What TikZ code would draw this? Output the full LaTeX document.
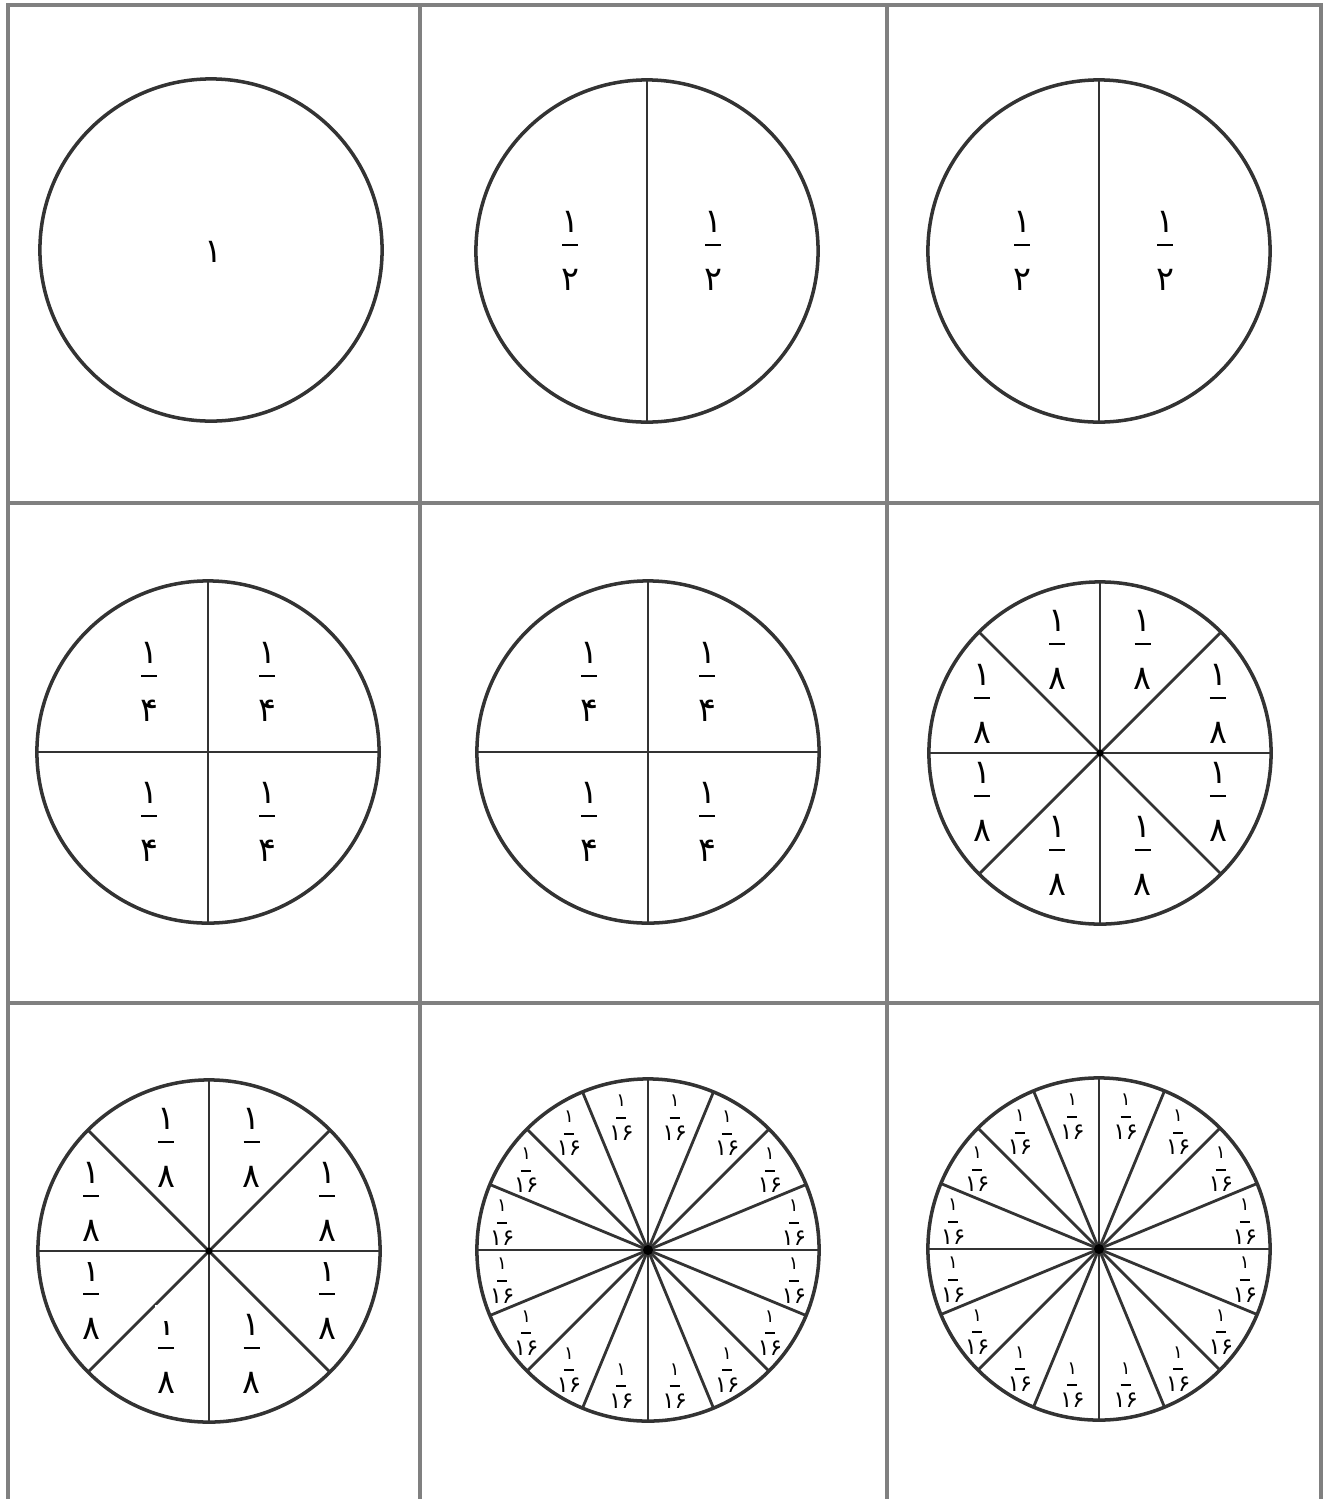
\documentclass[tikz,border=0pt]{standalone}
\usepackage{fontspec}
\newfontfamily\fafont[Script=Arabic]{DejaVu Sans}
\usetikzlibrary{calc}

\begin{document}
\begin{tikzpicture}[x=0.01cm,y=-0.01cm,
  frame/.style={black!50,line width=0.9pt},
  disk/.style={black!80,line width=1pt},
  spoke/.style={black!80,line width=0.8pt},
  digit/.style={inner sep=0pt,font=\fafont\fontsize{9.5}{11}\selectfont},
  tinydigit/.style={inner sep=0pt,font=\fafont\fontsize{6.5}{8}\selectfont},
  kasr/.pic={
    \node[digit] (-num) at (0,-29) {۱};
    \draw[black,line width=0.65pt] (-8,-6) -- (8,-6);
    \node[digit] (-den) at (0,29) {#1};
  },
  kasrsmall/.pic={
    \node[tinydigit,scale=0.8] (-num) at (0,-15) {۱};
    \draw[black,line width=0.55pt] (-5,2) -- (5,2);
    \node[tinydigit] (-den) at (0,17) {۱۶};
  }]
\useasboundingbox (0,0) rectangle (1326,1499);
% table
\draw[frame] (8,1499) -- (8,5) -- (1321,5) -- (1321,1499);
\draw[frame] (420,5) -- (420,1499);
\draw[frame] (887,5) -- (887,1499);
\draw[frame] (8,503) -- (1321,503);
\draw[frame] (8,1003) -- (1321,1003);
% centres
\coordinate (C1) at (211,250);
\coordinate (C2) at (647,251);
\coordinate (C3) at (1099,251);
\coordinate (C4) at (208,752);
\coordinate (C5) at (648,752);
\coordinate (C6) at (1100,753);
\coordinate (C7) at (209,1251);
\coordinate (C8) at (648,1250);
\coordinate (C9) at (1099,1249);
% whole
\draw[disk] (C1) circle [radius=1.71cm];
\node[digit] (one) at ($(C1)+(2,2)$) {۱};
% halves
\foreach \c in {C2,C3}{
  \draw[spoke] ($(\c)+(0,-171)$) -- ($(\c)+(0,171)$);
  \draw[disk] (\c) circle [radius=1.71cm];
  \pic (\c-l) at ($(\c)+(-77,0)$) {kasr=۲};
  \pic (\c-r) at ($(\c)+(66,0)$) {kasr=۲};
}
% quarters
\foreach \c in {C4,C5}{
  \draw[spoke] ($(\c)+(0,-171)$) -- ($(\c)+(0,171)$);
  \draw[spoke] ($(\c)+(-171,0)$) -- ($(\c)+(171,0)$);
  \draw[disk] (\c) circle [radius=1.71cm];
  \foreach \sx/\sy [count=\i] in {-59/-70,59/-70,-59/70,59/70}
    \pic (\c-q\i) at ($(\c)+(\sx,\sy)$) {kasr=۴};
}
% eighths
\foreach \c in {C6,C7}{
  \foreach \a in {0,45,...,315}
    \draw[spoke] (\c) -- ++(\a:170);
  \draw[disk] (\c) circle [radius=1.71cm];
  \fill[black] (\c) circle [radius=0.035cm];
  \foreach \a [count=\i] in {22.5,67.5,...,337.5}
    \pic (\c-e\i) at ($(\c)+(\a:{100+30*abs(cos(\a))})$) {kasr=۸};
}
\fill[white] ($(C7)+(-129,1)$) rectangle ($(C7)+(-101,11)$);
\fill[white] ($(C7)+(102,1)$) rectangle ($(C7)+(129,11)$);
\fill[white] ($(C7)+(-54,54)$) rectangle ($(C7)+(-34,70)$);
% sixteenths
\foreach \c in {C8,C9}{
  \foreach \a in {0,22.5,...,337.5}
    \draw[spoke] (\c) -- ++(\a:170);
  \draw[disk] (\c) circle [radius=1.71cm];
  \fill[black] (\c) circle [radius=0.05cm];
  \foreach \a [count=\i] in {11.25,33.75,...,348.75}
    \pic (\c-s\i) at ($(\c)+(\a:{134+15*abs(cos(\a))})$) {kasrsmall};
}
\end{tikzpicture}
\end{document}
